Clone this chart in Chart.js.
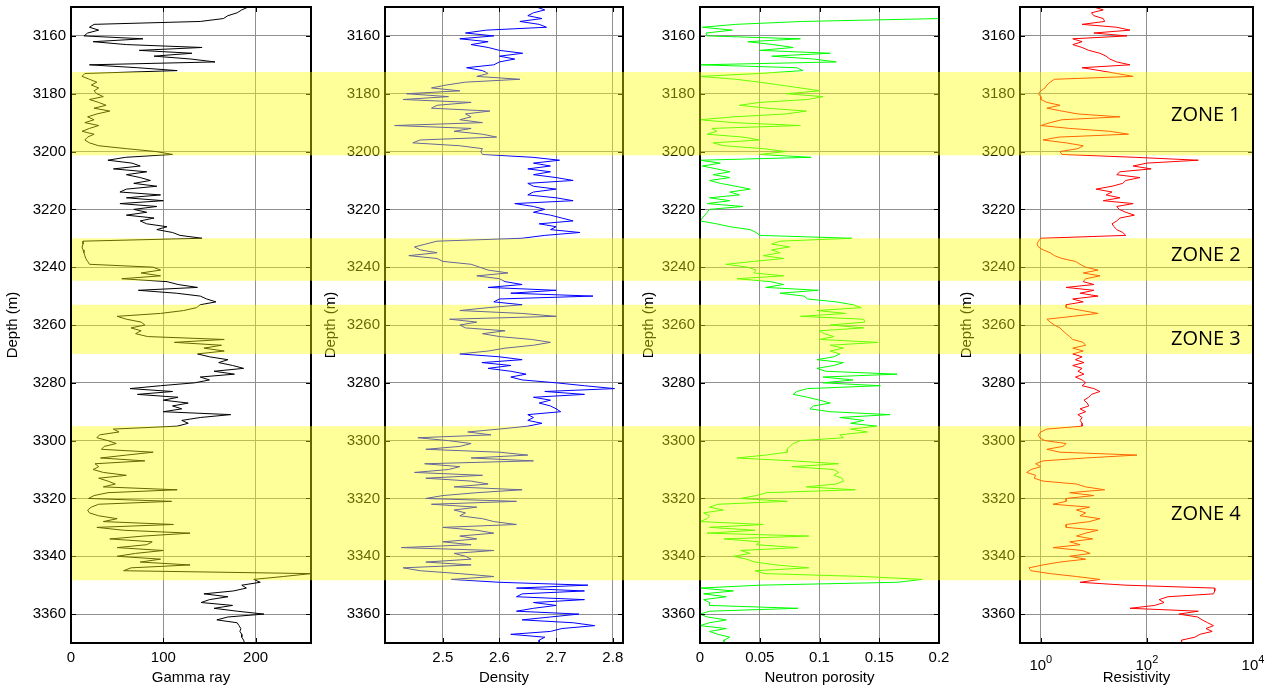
<!DOCTYPE html>
<html>
<head>
<meta charset="utf-8">
<title>Well log zones</title>
<script src="https://cdn.jsdelivr.net/npm/chart.js@4.4.1/dist/chart.umd.min.js"></script>
<style>
  html, body { margin: 0; padding: 0; background: #fff; }
  #wrap { position: relative; width: 1274px; height: 696px; overflow: hidden; }
  #wrap canvas { position: absolute; top: 0; }
</style>
</head>
<body>
<div id="wrap">
  <canvas id="gammaChart" width="318" height="696" style="left:0px"></canvas>
  <canvas id="densityChart" width="318" height="696" style="left:318px"></canvas>
  <canvas id="neutronChart" width="318" height="696" style="left:636px"></canvas>
  <canvas id="resistChart" width="320" height="696" style="left:954px"></canvas>
</div>
<script>
// ===== log data, one sample per metre from 3150 m to 3370 m =====
const depthStart = 3150;
const depthEnd = 3370;
const depths = Array.from({ length: depthEnd - depthStart + 1 }, (_, i) => depthStart + i);

const gammaRay = [
  192,185,180,170,165,140,25,20,30,18,
  14,78,24,60,142,74,131,90,130,156,
  20,72,115,15,12,20,28,22,30,25,
  28,35,20,30,38,25,42,28,18,25,
  15,30,20,12,25,18,15,20,30,60,
  92,110,59,40,66,75,46,82,60,75,
  86,68,93,60,53,97,60,100,53,93,
  68,82,60,90,75,82,104,93,110,118,
  142,13,13,12,13,14,15,16,18,20,
  89,97,76,97,55,104,116,137,73,114,
  140,147,157,140,136,122,97,50,60,76,
  80,65,76,70,83,166,112,163,144,166,
  137,150,170,160,175,187,155,177,140,150,
  134,97,64,110,72,116,100,127,110,120,
  100,173,140,120,127,115,46,52,31,28,
  40,49,36,33,89,60,32,80,26,30,
  24,35,60,30,40,48,35,115,40,25,
  19,109,30,22,18,20,30,50,35,111,
  28,57,129,79,42,88,82,50,100,70,
  50,97,75,129,65,57,260,230,198,205,
  185,190,176,144,170,150,141,175,155,180,
  209,170,158,180,182,184,183,185,185,187,
  188
];

const density = [
  2.665,2.68,2.66,2.65,2.675,2.636,2.67,2.683,2.577,2.54,
  2.59,2.53,2.58,2.55,2.58,2.60,2.641,2.60,2.627,2.60,
  2.59,2.542,2.57,2.58,2.56,2.636,2.54,2.506,2.48,2.53,
  2.436,2.51,2.43,2.55,2.49,2.48,2.583,2.54,2.55,2.53,
  2.57,2.415,2.55,2.52,2.57,2.595,2.46,2.447,2.53,2.57,
  2.567,2.57,2.659,2.706,2.66,2.69,2.65,2.69,2.66,2.70,
  2.73,2.65,2.66,2.70,2.66,2.65,2.70,2.73,2.627,2.66,
  2.68,2.66,2.69,2.71,2.73,2.67,2.70,2.69,2.742,2.68,
  2.64,2.49,2.47,2.45,2.46,2.49,2.44,2.49,2.50,2.55,
  2.565,2.58,2.615,2.56,2.60,2.61,2.64,2.58,2.70,2.62,
  2.765,2.60,2.59,2.64,2.58,2.53,2.64,2.70,2.512,2.56,
  2.53,2.54,2.61,2.57,2.60,2.657,2.69,2.66,2.61,2.58,
  2.53,2.60,2.64,2.569,2.62,2.58,2.62,2.647,2.62,2.64,
  2.70,2.75,2.803,2.68,2.75,2.66,2.69,2.67,2.69,2.70,
  2.708,2.65,2.66,2.65,2.675,2.65,2.60,2.544,2.585,2.456,
  2.51,2.55,2.53,2.47,2.60,2.65,2.55,2.66,2.468,2.53,
  2.51,2.45,2.57,2.47,2.55,2.58,2.52,2.64,2.56,2.50,
  2.47,2.63,2.48,2.56,2.52,2.54,2.53,2.57,2.59,2.63,
  2.50,2.56,2.59,2.53,2.56,2.50,2.55,2.427,2.59,2.52,
  2.54,2.55,2.47,2.55,2.43,2.46,2.53,2.59,2.515,2.60,
  2.756,2.63,2.75,2.64,2.63,2.75,2.66,2.70,2.66,2.63,
  2.74,2.69,2.64,2.73,2.768,2.71,2.69,2.62,2.68,2.67,
  2.67
];

const neutronPorosity = [
  0.21,0.21,0.205,0.205,0.20,0.086,0.03,0.002,0.027,0.005,
  0.006,0.084,0.040,0.061,0.078,0.05,0.109,0.06,0.095,0.114,
  0.0,0.081,0.086,0.05,0.0,0.030,0.05,0.067,0.084,0.100,
  0.072,0.103,0.090,0.05,0.033,0.056,0.089,0.072,0.028,0.0,
  0.028,0.084,0.010,0.014,0.006,0.036,0.050,0.011,0.020,0.053,
  0.072,0.05,0.093,0.0,0.017,0.002,0.014,0.025,0.011,0.025,
  0.008,0.017,0.03,0.042,0.025,0.033,0.008,0.025,0.006,0.036,
  0.008,0.006,0.004,0.002,0.0,0.014,0.025,0.042,0.047,0.05,
  0.127,0.067,0.06,0.075,0.06,0.067,0.053,0.07,0.045,0.022,
  0.040,0.047,0.045,0.07,0.031,0.059,0.07,0.055,0.099,0.067,
  0.087,0.09,0.114,0.128,0.135,0.098,0.122,0.084,0.137,0.138,
  0.109,0.137,0.100,0.104,0.112,0.100,0.149,0.109,0.12,0.109,
  0.117,0.112,0.098,0.12,0.112,0.098,0.105,0.165,0.103,0.128,
  0.103,0.151,0.09,0.081,0.078,0.09,0.1,0.109,0.095,0.092,
  0.109,0.159,0.117,0.137,0.126,0.148,0.126,0.14,0.117,0.12,
  0.084,0.078,0.075,0.073,0.073,0.055,0.031,0.078,0.116,0.077,
  0.112,0.116,0.112,0.119,0.120,0.114,0.089,0.130,0.056,0.047,
  0.034,0.073,0.015,0.008,0.0195,0.003,0.008,0.006,0.0,0.053,
  0.008,0.046,0.006,0.091,0.02,0.05,0.047,0.082,0.034,0.042,
  0.028,0.039,0.046,0.064,0.091,0.046,0.054,0.137,0.186,0.165,
  0.05,0.0,0.028,0.003,0.022,0.003,0.008,0.008,0.082,0.008,
  0.0,0.006,0.022,0.008,0.0,0.022,0.008,0.015,0.025,0.02,
  0.02
];

const resistivity = [
  10,15,9,10,15,16,6,27,48,10,
  42,4,6,4,6,8,13,17,20,27,
  48,6,13,27,55,1.8,1.5,1.3,1.2,1.0,
  0.9,1.0,1.0,1.3,2.3,1.3,2.5,5,31,2.5,
  1.5,1.0,3.5,20,45,2.2,1.1,3,6.3,5,
  2.3,2.5,60,930,100,55,120,31,27,74,
  40,35,22,11,22,17,31,15,55,27,
  30,40,58,31,27,22,24,27,35,40,
  1.0,0.9,0.85,0.9,1.1,1.5,1.8,2.5,4.5,5.5,
  7,12,6.3,13,7,6.3,10,3,10,5.5,
  12,4,6.3,3,3,6,12,4,1.3,1.5,
  1.8,2.3,2.6,3,3.5,4,6.3,7,4,6.3,
  4,6,4.5,6.5,4,6,5,6.5,4.5,6,
  7,6,10,13,9,8,6.5,7.5,8,5.5,
  7,5,6,5.5,6,6,1.3,1.0,0.9,0.95,
  1.2,3,2.6,1.3,2.3,65,7,1.1,0.8,1.0,
  0.65,0.54,0.8,0.75,1.1,4.7,7,16,3.5,10,
  3,3,1.7,8.3,4.7,7,5.5,13,8.3,3,
  3,12,7,4.7,9.5,3.5,5.5,1.7,6,8.5,
  3.5,7,2.3,1.1,0.6,0.65,1.5,4.7,13,5.5,
  40,1900,1900,1800,250,170,210,140,48,930,
  400,900,1100,1400,1800,1300,1700,1000,800,450,
  450
];

// tick labels
const depthTicks = [3160, 3180, 3200, 3220, 3240, 3260, 3280, 3300, 3320, 3340, 3360];
const gammaTicks = [0, 100, 200];
const densityTicks = [2.5, 2.6, 2.7, 2.8];
const neutronTicks = [0, 0.05, 0.1, 0.15, 0.2];
const resistTicks = [1, 100, 10000];

// highlighted zones (depth in m)
const zoneNames = ["ZONE 1", "ZONE 2", "ZONE 3", "ZONE 4"];
const zoneTops = [3172.5, 3230, 3253, 3295];
const zoneBottoms = [3201.3, 3244.7, 3270, 3348.3];
const zoneLabelDepths = [3187.5, 3236, 3265, 3325.5];

// ===== styling =====
const FONT = "'Liberation Sans', Arial, Helvetica, sans-serif";
const gridColor = "#8f8f8f";
Chart.defaults.font.family = FONT;
Chart.defaults.font.size = 15;
Chart.defaults.color = "#000";

function fixedTicks(list) {
  return scale => { scale.ticks = list.map(v => ({ value: v })); };
}

function panelPlugin(p) {
  return {
    id: "panel_" + p.id,
    afterDraw(chart) {
      const { ctx, chartArea: a, scales } = chart;
      ctx.save();

      // axes box
      ctx.strokeStyle = "#000";
      ctx.lineWidth = 2;
      ctx.strokeRect(a.left, a.top, a.right - a.left, a.bottom - a.top);

      // inward tick marks on all four sides
      ctx.lineWidth = 1;
      ctx.beginPath();
      scales.x.ticks.forEach(t => {
        const px = Math.round(scales.x.getPixelForValue(t.value)) + 0.5;
        ctx.moveTo(px, a.bottom); ctx.lineTo(px, a.bottom - 5);
        ctx.moveTo(px, a.top); ctx.lineTo(px, a.top + 5);
      });
      scales.y.ticks.forEach(t => {
        const py = Math.round(scales.y.getPixelForValue(t.value)) + 0.5;
        ctx.moveTo(a.left, py); ctx.lineTo(a.left + 5, py);
        ctx.moveTo(a.right, py); ctx.lineTo(a.right - 5, py);
      });
      ctx.stroke();

      // translucent yellow zone bands (over everything, like the original)
      ctx.fillStyle = "rgba(255,255,0,0.4)";
      zoneTops.forEach((top, i) => {
        const y0 = scales.y.getPixelForValue(top);
        const y1 = scales.y.getPixelForValue(zoneBottoms[i]);
        ctx.fillRect(p.bandFrom, y0, p.bandTo - p.bandFrom, y1 - y0);
      });

      if (p.extra) p.extra(chart);
      ctx.restore();
    }
  };
}

function buildPanel(p) {
  const points = depths.map((d, i) => ({ x: p.values[i], y: d }));
  return new Chart(document.getElementById(p.id), {
    type: "line",
    data: {
      datasets: [{
        data: points,
        borderColor: p.color,
        borderWidth: 1,
        pointRadius: 0,
        tension: 0,
        fill: false
      }]
    },
    options: {
      responsive: false,
      animation: false,
      events: [],
      layout: { padding: { left: 0, right: p.padRight, top: 7, bottom: 0 } },
      plugins: { legend: { display: false }, tooltip: { enabled: false } },
      scales: {
        x: {
          type: p.xType,
          position: "bottom",
          min: p.xMin,
          max: p.xMax,
          afterBuildTicks: fixedTicks(p.xTicks),
          afterFit: s => { s.height = 53; s.paddingLeft = 0; s.paddingRight = 0; },
          grid: { color: gridColor, drawTicks: false },
          border: { display: false },
          ticks: {
            padding: 6,
            autoSkip: false,
            maxRotation: 0,
            callback: p.xLabel || (v => String(v))
          },
          title: { display: true, text: p.title, padding: { top: 0, bottom: 9 } }
        },
        y: {
          type: "linear",
          reverse: true,
          min: depthStart,
          max: depthEnd,
          afterBuildTicks: fixedTicks(depthTicks),
          afterFit: s => { s.width = p.leftWidth; s.paddingTop = 0; s.paddingBottom = 0; },
          grid: { color: gridColor, drawTicks: false },
          border: { display: false },
          ticks: { padding: 5, autoSkip: false, callback: v => String(v) },
          title: { display: true, text: "Depth (m)" }
        }
      }
    },
    plugins: [panelPlugin(p)]
  });
}

buildPanel({
  id: "gammaChart", values: gammaRay, color: "#000000",
  xType: "linear", xMin: 0, xMax: 260, xTicks: gammaTicks, title: "Gamma ray",
  leftWidth: 71, padRight: 7, bandFrom: 72, bandTo: 318
});

buildPanel({
  id: "densityChart", values: density, color: "#0000ff",
  xType: "linear", xMin: 2.398, xMax: 2.818, xTicks: densityTicks, title: "Density",
  leftWidth: 67, padRight: 13, bandFrom: 0, bandTo: 318
});

buildPanel({
  id: "neutronChart", values: neutronPorosity, color: "#00ff00",
  xType: "linear", xMin: 0, xMax: 0.2, xTicks: neutronTicks, title: "Neutron porosity",
  leftWidth: 64, padRight: 15, bandFrom: 0, bandTo: 318
});

buildPanel({
  id: "resistChart", values: resistivity, color: "#ff0000",
  xType: "logarithmic", xMin: 0.405, xMax: 10000, xTicks: resistTicks, title: "Resistivity",
  leftWidth: 66, padRight: 21, bandFrom: 0, bandTo: 298,
  xLabel: () => "",
  extra(chart) {
    const { ctx, chartArea: a, scales } = chart;
    // power-of-ten labels with raised exponent
    ctx.fillStyle = "#000";
    ctx.textBaseline = "alphabetic";
    ctx.textAlign = "left";
    scales.x.ticks.forEach(t => {
      const px = scales.x.getPixelForValue(t.value);
      const exp = String(Math.round(Math.log10(t.value)));
      ctx.font = "15px " + FONT;
      const wBase = ctx.measureText("10").width;
      ctx.font = "11px " + FONT;
      const wExp = ctx.measureText(exp).width;
      const x0 = px - (wBase + wExp) / 2;
      ctx.font = "15px " + FONT;
      ctx.fillText("10", x0, a.bottom + 27);
      ctx.font = "11px " + FONT;
      ctx.fillText(exp, x0 + wBase, a.bottom + 20);
    });
    // zone names
    ctx.font = "20px 'Open Sans', 'Noto Sans', sans-serif";
    ctx.textBaseline = "middle";
    zoneNames.forEach((name, i) => {
      ctx.fillText(name, 1171 - 954, scales.y.getPixelForValue(zoneLabelDepths[i]));
    });
  }
});
</script>
</body>
</html>
